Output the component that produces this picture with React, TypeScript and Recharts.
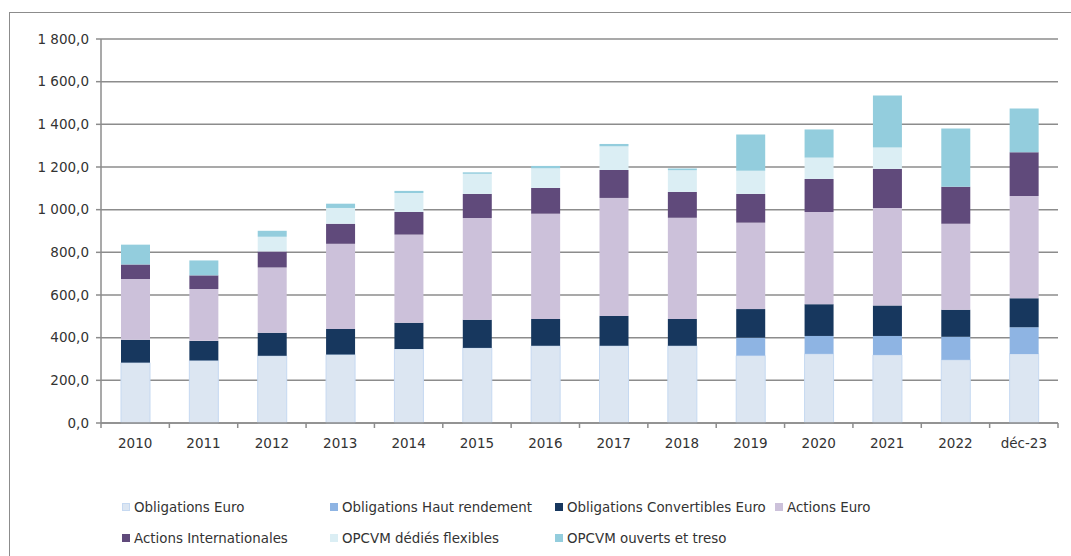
import { BarChart, Bar, XAxis, YAxis, CartesianGrid } from "recharts";

const categories = ["2010", "2011", "2012", "2013", "2014", "2015", "2016", "2017", "2018", "2019", "2020", "2021", "2022", "déc-23"];

const obligationsEuro = [283, 293, 315, 321, 347, 352, 362, 362, 362, 316, 324, 319, 296, 324];
const obligationsHautRendement = [0, 0, 0, 0, 0, 0, 0, 0, 0, 84, 84, 89, 108, 125];
const obligationsConvertibles = [107, 92, 108, 120, 123, 132, 126, 140, 126, 134, 149, 143, 127, 136];
const actionsEuro = [285, 243, 306, 399, 413, 477, 493, 553, 474, 405, 432, 457, 403, 479];
const actionsInternationales = [68, 64, 75, 94, 106, 113, 121, 131, 121, 135, 155, 183, 173, 205];
const opcvmFlexibles = [0, 0, 69, 74, 89, 94, 92, 111, 102, 108, 100, 100, 0, 0];
const opcvmOuverts = [93, 70, 28, 20, 10, 7, 11, 11, 8, 170, 132, 244, 273, 205];

const yTicks = [0, 200, 400, 600, 800, 1000, 1200, 1400, 1600, 1800];

const series = [
  { key: "oe", name: "Obligations Euro", values: obligationsEuro },
  { key: "hy", name: "Obligations Haut rendement", values: obligationsHautRendement },
  { key: "conv", name: "Obligations Convertibles Euro", values: obligationsConvertibles },
  { key: "ae", name: "Actions Euro", values: actionsEuro },
  { key: "ai", name: "Actions Internationales", values: actionsInternationales },
  { key: "flex", name: "OPCVM dédiés flexibles", values: opcvmFlexibles },
  { key: "ouv", name: "OPCVM ouverts et treso", values: opcvmOuverts },
];

// styles, same order as series
const colors = ["#dce6f2", "#8eb4e3", "#17375e", "#ccc1da", "#604a7b", "#dbeef4", "#93cddd"];
const strokes = ["#c6d9f1", "none", "none", "none", "none", "none", "none"];

const data = categories.map((category, i) => {
  const row: Record<string, string | number> = { category };
  series.forEach((s) => (row[s.key] = s.values[i]));
  return row;
});

const W = 1071;
const H = 556;
const margin = { top: 39, right: 13, left: 11, bottom: 103 };
const yAxisWidth = 90;
const band = (W - margin.left - margin.right - yAxisWidth) / categories.length;
const font = "'DejaVu Sans', sans-serif";
const gray = "#8c8c8c";
const textColor = "#333333";

const fmt = (v: number) => {
  const s = Math.round(v).toString().replace(/\B(?=(\d{3})+(?!\d))/g, " ");
  return `${s},0`;
};

const XTick = (props: any) => {
  const { x, y, payload, index } = props;
  const half = band / 2;
  return (
    <g>
      <line x1={x - half} x2={x - half} y1={y} y2={y + 5} stroke={gray} strokeWidth={1.5} />
      {index === categories.length - 1 && (
        <line x1={x + half} x2={x + half} y1={y} y2={y + 5} stroke={gray} strokeWidth={1.5} />
      )}
      <text x={x} y={y + 25} textAnchor="middle" fontSize={13.5} fontFamily={font} fill={textColor}>
        {payload.value}
      </text>
    </g>
  );
};

const legendRows = [
  [0, 1, 2, 3],
  [4, 5, 6],
];
const legendCols = [122, 330, 555, 775];

export default function App() {
  return (
    <div style={{ position: "absolute", left: 0, top: 0, width: W, height: H, overflow: "hidden", background: "#fff" }}>
      <div
        style={{
          position: "absolute",
          left: 9,
          top: 12,
          width: 1100,
          height: 600,
          border: `1.5px solid ${gray}`,
        }}
      />
      <div style={{ position: "absolute", left: 0, top: 0 }}>
        <BarChart width={W} height={H} data={data} margin={margin} barSize={29}>
          <CartesianGrid vertical={false} stroke={gray} strokeWidth={1.5} />
          <XAxis
            dataKey="category"
            height={30}
            tickSize={0}
            tickMargin={0}
            tickLine={false}
            axisLine={{ stroke: gray, strokeWidth: 1.5 }}
            tick={<XTick />}
            interval={0}
          />
          <YAxis
            width={yAxisWidth}
            domain={[0, 1800]}
            ticks={yTicks}
            tickFormatter={fmt}
            tickSize={5}
            tickMargin={7}
            tickLine={{ stroke: gray, strokeWidth: 1.5 }}
            axisLine={{ stroke: gray, strokeWidth: 1.5 }}
            tick={{ fontSize: 13.5, fontFamily: font, fill: textColor }}
          />
          {series.map((s, i) => (
            <Bar
              key={s.key}
              dataKey={s.key}
              name={s.name}
              stackId="a"
              fill={colors[i]}
              stroke={strokes[i]}
              strokeWidth={1}
              isAnimationActive={false}
            />
          ))}
        </BarChart>
      </div>
      {legendRows.map((row, r) => (
        <div key={r} style={{ position: "absolute", top: 498 + r * 31, left: 0, height: 18, width: W }}>
          {row.map((idx, c) => (
            <div
              key={idx}
              style={{
                position: "absolute",
                left: legendCols[c],
                top: 0,
                display: "flex",
                alignItems: "center",
                height: 18,
                whiteSpace: "nowrap",
                fontFamily: font,
                fontSize: 13.4,
                color: textColor,
              }}
            >
              <span
                style={{
                  display: "inline-block",
                  width: 8,
                  height: 8,
                  marginRight: 4,
                  background: colors[idx],
                  boxSizing: "border-box",
                  border: strokes[idx] !== "none" ? `1px solid ${strokes[idx]}` : "none",
                }}
              />
              {series[idx].name}
            </div>
          ))}
        </div>
      ))}
    </div>
  );
}
